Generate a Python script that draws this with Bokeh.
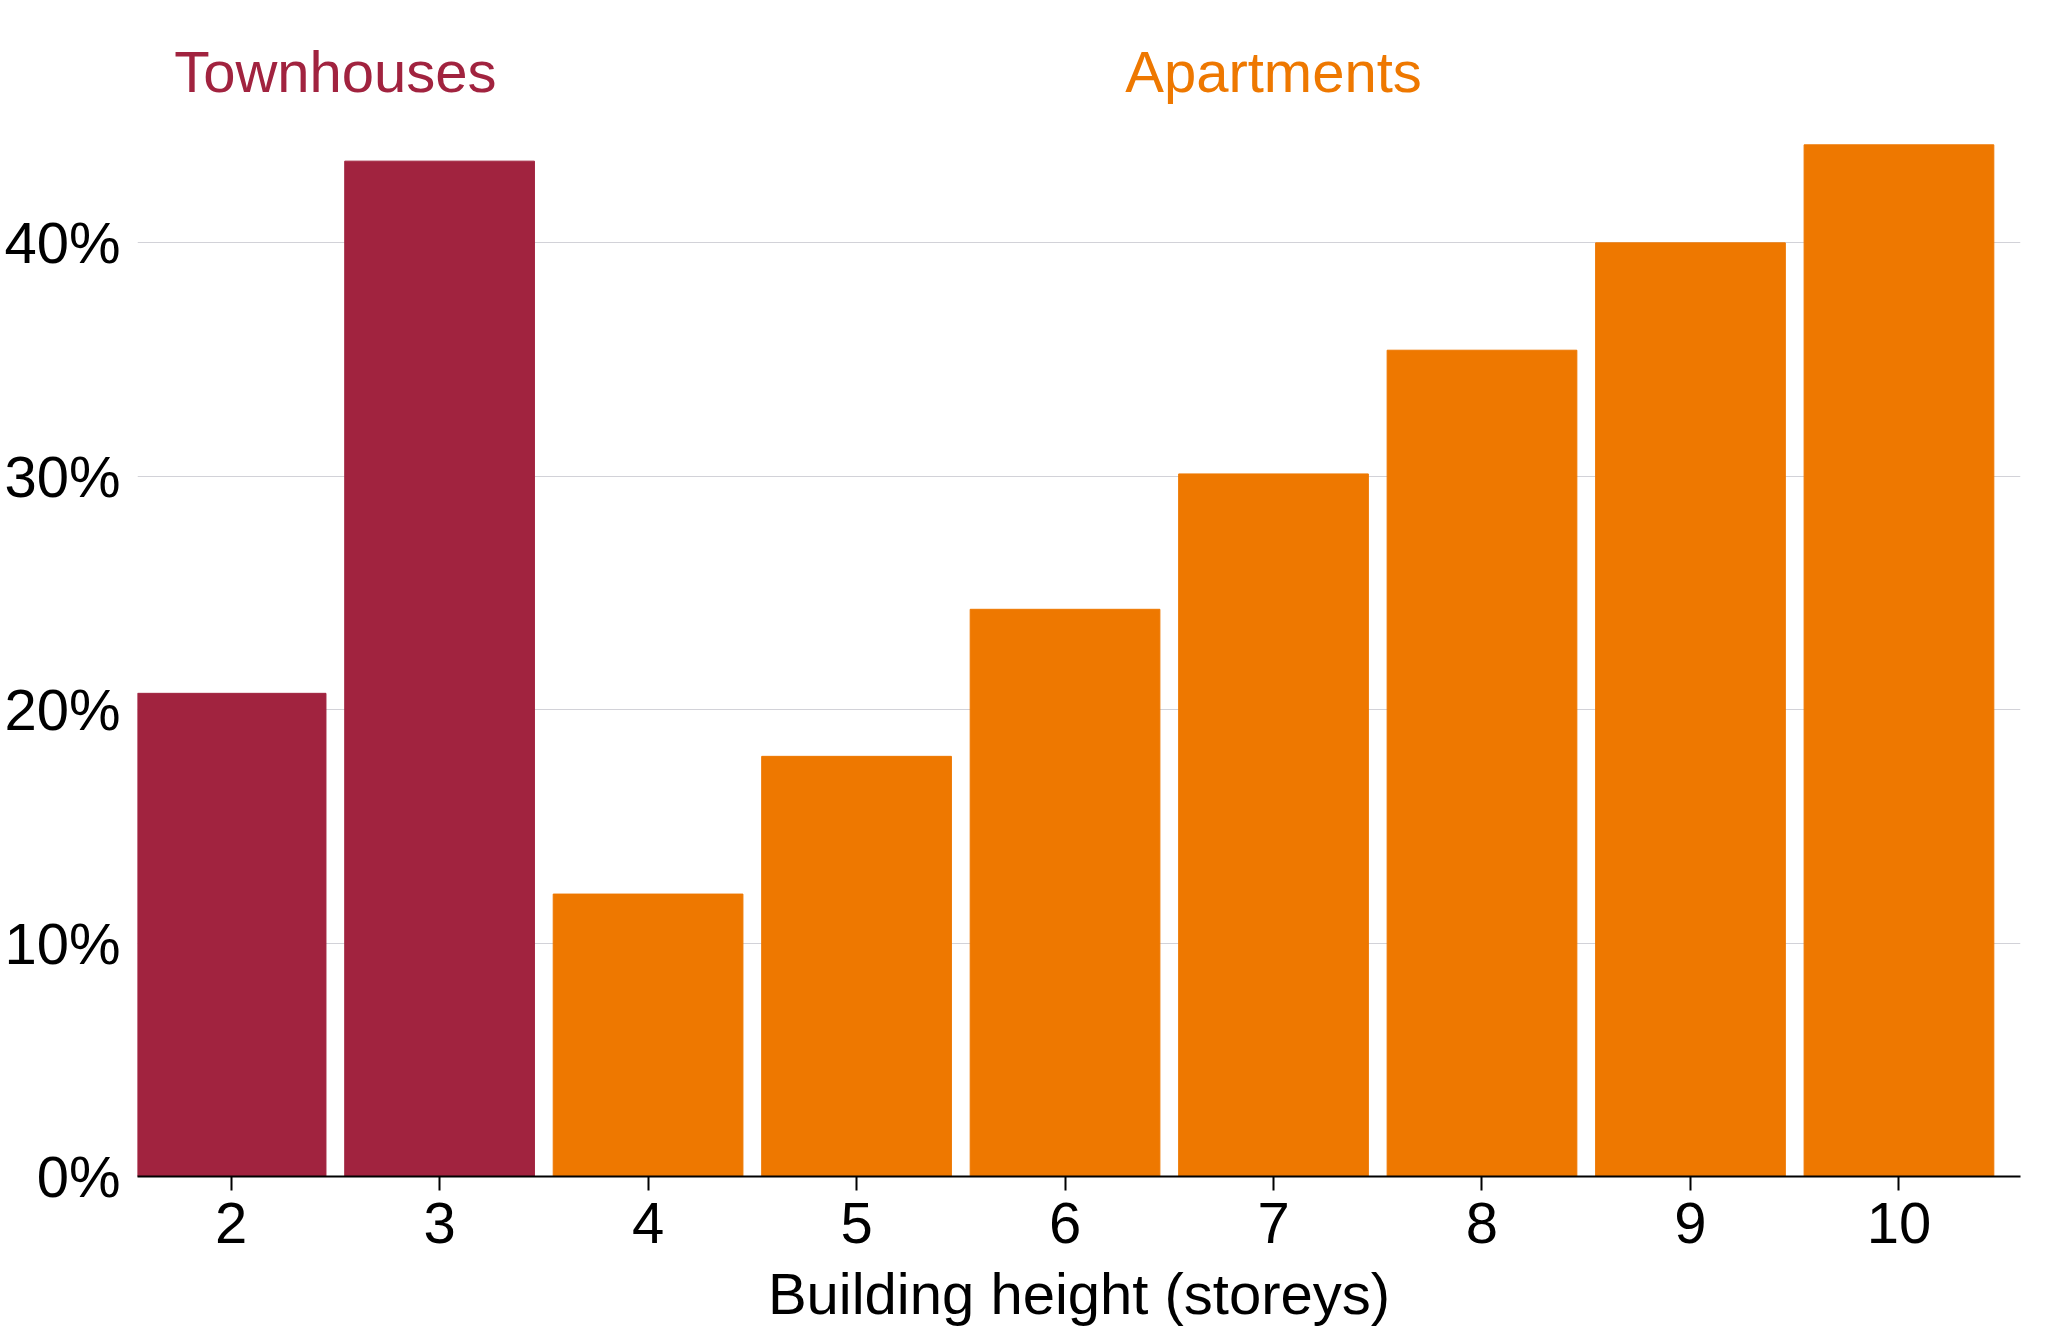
from bokeh.plotting import figure
from bokeh.models import ColumnDataSource, FixedTicker, PrintfTickFormatter, Range1d
from bokeh.core.properties import value
from bokeh.embed import file_html
from bokeh.resources import INLINE

storeys = [2, 3, 4, 5, 6, 7, 8, 9, 10]
share_pct = [20.7, 43.5, 12.1, 18.0, 24.3, 30.1, 35.4, 40.0, 44.2]
building_type = ["Townhouses", "Townhouses", "Apartments", "Apartments", "Apartments",
                 "Apartments", "Apartments", "Apartments", "Apartments"]
group_labels = ["Townhouses", "Apartments"]
group_label_x = [2.5, 7]
group_label_y = [47.32, 47.32]
y_ticks = [0, 10, 20, 30, 40]
x_title = "Building height (storeys)"

COLORS = {"Townhouses": "#A1233F", "Apartments": "#EE7800"}
FONT = "Liberation Sans"

src = ColumnDataSource(dict(
    x=storeys, top=share_pct,
    color=[COLORS[t] for t in building_type],
))
lab_src = ColumnDataSource(dict(
    x=group_label_x, y=group_label_y, text=group_labels,
    color=[COLORS[t] for t in group_labels],
))

p = figure(frame_width=1883, frame_height=1168, output_backend="svg",
           toolbar_location=None, x_range=Range1d(1.551, 10.583),
           y_range=Range1d(0, 50.04), min_border_left=137, min_border_right=18,
           min_border_top=8, min_border_bottom=150)
p.outline_line_color = None
p.background_fill_color = "white"

p.vbar(x="x", top="top", bottom=0, width=0.91, color="color", source=src)
p.text(x="x", y="y", text="text", text_color="color", source=lab_src,
       text_align="center", text_baseline="alphabetic",
       text_font=value(FONT), text_font_size="58px")

p.xgrid.visible = False
p.ygrid.ticker = FixedTicker(ticks=[10, 20, 30, 40])
p.ygrid.grid_line_color = "#D2D2D8"
p.ygrid.grid_line_width = 1.2

p.xaxis.ticker = FixedTicker(ticks=storeys)
p.xaxis.axis_line_color = "black"
p.xaxis.axis_line_width = 2
p.xaxis.major_tick_line_color = "black"
p.xaxis.major_tick_line_width = 2
p.xaxis.minor_tick_line_color = None
p.xaxis.major_tick_out = 14
p.xaxis.major_tick_in = 0
p.xaxis.major_label_standoff = 12
p.xaxis.major_label_text_font = FONT
p.xaxis.major_label_text_font_size = "58px"
p.xaxis.major_label_text_color = "black"
p.xaxis.axis_label = x_title
p.xaxis.axis_label_text_font = FONT
p.xaxis.axis_label_text_font_size = "58px"
p.xaxis.axis_label_text_font_style = "normal"
p.xaxis.axis_label_text_color = "black"
p.xaxis.axis_label_standoff = 15

p.yaxis.ticker = FixedTicker(ticks=y_ticks)
p.yaxis.formatter = PrintfTickFormatter(format="%d%%")
p.yaxis.axis_line_color = None
p.yaxis.major_tick_line_color = None
p.yaxis.minor_tick_line_color = None
p.yaxis.major_tick_out = 0
p.yaxis.major_tick_in = 0
p.yaxis.major_label_standoff = 17
p.yaxis.major_label_text_font = FONT
p.yaxis.major_label_text_font_size = "58px"
p.yaxis.major_label_text_color = "black"

open("out.html", "w").write(file_html(p, INLINE))
